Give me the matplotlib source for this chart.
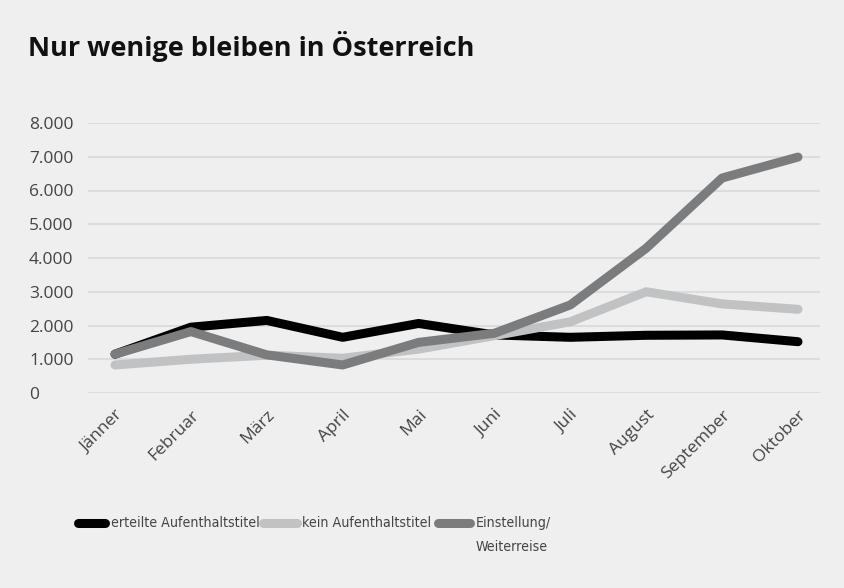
import matplotlib
matplotlib.use("Agg")
import matplotlib.pyplot as plt
from matplotlib.lines import Line2D
from matplotlib import font_manager as fm

months = ["Jänner", "Februar", "März", "April", "Mai", "Juni", "Juli", "August", "September", "Oktober"]
erteilte = [1150, 1950, 2150, 1650, 2060, 1720, 1650, 1710, 1720, 1520]
kein = [830, 1000, 1120, 1030, 1300, 1700, 2110, 3000, 2640, 2480]
einstellung = [1150, 1820, 1130, 830, 1500, 1770, 2610, 4290, 6370, 6990]
series_names = ["erteilte Aufenthaltstitel", "kein Aufenthaltstitel", "Einstellung/\nWeiterreise"]
yticks = [0, 1000, 2000, 3000, 4000, 5000, 6000, 7000, 8000]
ytick_labels = ["0", "1.000", "2.000", "3.000", "4.000", "5.000", "6.000", "7.000", "8.000"]
title = "Nur wenige bleiben in Österreich"

BG = "#efefef"
TXT = "#444444"
colors = ["#000000", "#c1c2c4", "#7b7c7e"]
plt.rcParams['font.family'] = ['Open Sans', 'DejaVu Sans']

# find a condensed font if available
cond_file = None
for f in fm.fontManager.ttflist:
    if f.stretch in ('condensed', 'semi-condensed', 'extra-condensed') or 'Narrow' in f.name or 'Condensed' in f.name:
        if f.weight in (400, 'normal', 'regular') and f.style == 'normal':
            cond_file = f.fname
            break
if cond_file:
    legend_font = dict(fontproperties=fm.FontProperties(fname=cond_file, size=10.2))
else:
    legend_font = dict(family=['Roboto', 'DejaVu Sans'], fontsize=9.5)

fig = plt.figure(figsize=(8.45, 5.88), dpi=100, facecolor=BG)
W, H = 845, 588
ax = fig.add_axes([88 / W, 1 - 393 / H, (820 - 88) / W, (393 - 123) / H])
ax.set_facecolor(BG)

x = list(range(len(months)))
for data, col, z in zip([erteilte, kein, einstellung], colors, [2, 3, 4]):
    ax.plot(x, data, color=col, lw=6.5, solid_capstyle='round', solid_joinstyle='round', zorder=z)

ax.set_xlim(-0.356, 9.29)
ax.set_ylim(0, 8000)
ax.set_yticks(yticks)
ax.set_yticklabels(ytick_labels)
ax.yaxis.grid(True, color="#dcdcdc", lw=1.5, zorder=0)
ax.set_axisbelow(True)
for s in ax.spines.values():
    s.set_visible(False)
ax.tick_params(axis='both', length=0, colors=TXT, labelsize=12.5)
for lab in ax.get_yticklabels():
    lab.set_horizontalalignment('left')
ax.tick_params(axis='y', pad=59 * 0.72)
ax.set_xticks(x)
ax.set_xticklabels(months, rotation=45, ha='right', rotation_mode='anchor')
ax.tick_params(axis='x', pad=10)

fig.text(28 / W, 1 - 46 / H, title, fontsize=19.5, fontweight='bold', color="#111111", va='center', ha='left')

# legend
legend_items = [(78, 105, 111), (263, 297, 302), (438, 470, 476)]
ly = 1 - 523 / H
for (x0, x1, tx), col, name in zip(legend_items, colors, series_names):
    fig.add_artist(Line2D([x0 / W, x1 / W], [ly, ly], color=col, lw=6.5, solid_capstyle='round', transform=fig.transFigure))
    fig.text(tx / W, 1 - 523 / H, name.split("\n")[0], color=TXT, va='center', ha='left', **legend_font)
    if "\n" in name:
        fig.text(tx / W, 1 - 547 / H, name.split("\n")[1], color=TXT, va='center', ha='left', **legend_font)

fig.savefig("out.png", dpi=100, facecolor=BG)
